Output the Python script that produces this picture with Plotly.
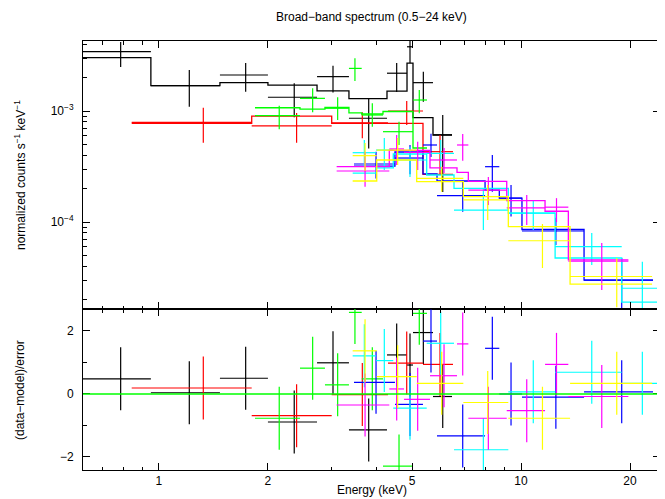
import plotly.graph_objects as go

# ---------------- data ----------------
# black
blk_elo = [0.617, 0.950, 1.474, 2.000, 2.733, 3.348, 4.264, 4.843, 5.031, 5.713]
blk_ehi = [0.950, 1.474, 2.000, 2.733, 3.348, 4.264, 4.843, 5.031, 5.713, 6.447]
blk_ec = [0.784, 1.213, 1.736, 2.364, 3.025, 3.796, 4.535, 4.936, 5.373, 6.078]
blk_flux = [3.42e-3, 1.69e-3, 2.11e-3, 1.33e-3, 2.04e-3, 8.6e-4, 2.19e-3, 3.79e-3, 1.80e-3, 6.1e-4]
blk_fhi = [4.19e-3, 2.34e-3, 2.70e-3, 1.78e-3, 2.56e-3, 1.28e-3, 2.70e-3, 4.9e-3, 2.26e-3, 9.2e-4]
blk_flo = [2.49e-3, 1.09e-3, 1.49e-3, 8.8e-4, 1.47e-3, 4.6e-4, 1.48e-3, 2.70e-3, 1.21e-3, 1.86e-4]
blk_model = [3.02e-3, 1.69e-3, 1.80e-3, 1.71e-3, 1.52e-3, 1.29e-3, 1.51e-3, 2.70e-3, 8.7e-4, 6.08e-4]
blk_resid = [0.48, 0.04, 0.50, -0.89, 0.99, -1.14, 1.24, 0.92, 1.95, -0.08]

# red
red_elo = [0.841, 1.804, 3.000, 4.291, 5.361]
red_ehi = [1.804, 3.000, 4.291, 5.361, 6.489]
red_ec = [1.326, 2.400, 3.645, 4.834, 5.974]
red_flux = [7.91e-4, 7.33e-4, 7.8e-4, 1.0e-3, 4.3e-4]
red_fhi = [1.07e-3, 9.6e-4, 9.73e-4, 1.23e-3, 6.08e-4]
red_flo = [5.18e-4, 5.18e-4, 5.68e-4, 7.48e-4, 2.65e-4]
red_model = [7.75e-4, 9.0e-4, 7.75e-4, 7.75e-4, 2.68e-4]
red_resid = [0.19, -0.69, -0.02, 0.98, 0.94]

# green
grn_elo = [1.842, 2.452, 2.874, 3.348, 3.631, 4.157, 5.031]
grn_ehi = [2.452, 2.874, 3.348, 3.631, 4.157, 5.031, 5.499]
grn_ec = [2.149, 2.658, 3.116, 3.478, 3.884, 4.603, 5.236]
grn_flux = [9.07e-4, 1.30e-3, 1.058e-3, 2.42e-3, 9.2e-4, 6.51e-4, 1.256e-3]
grn_fhi = [1.116e-3, 1.60e-3, 1.33e-3, 2.98e-3, 1.174e-3, 8.01e-4, 1.545e-3]
grn_flo = [6.84e-4, 9.73e-4, 8.3e-4, 1.86e-3, 7.22e-4, 4.94e-4, 9.53e-4]
grn_model = [1.07e-3, 1.04e-3, 1.08e-3, 9.6e-4, 9.4e-4, 9.9e-4, 4.64e-4]
grn_resid = [-0.77, 0.82, 0.29, 2.59, 0.48, -2.29, 2.56]

# blue
blu_elo = [3.457, 4.486, 5.361, 5.861, 7.955, 8.710, 10.06, 14.93]
blu_ehi = [4.486, 5.361, 5.861, 7.955, 8.710, 10.06, 14.93, 23.15]
blu_ec = [3.977, 4.936, 5.641, 6.902, 8.332, 9.384, 12.48, 18.97]
blu_flux = [3.33e-4, 3.77e-4, 4.94e-4, 1.73e-4, 3.15e-4, 1.64e-4, 8.30e-5, 3.00e-5]
blu_fhi = [4.30e-4, 4.94e-4, 6.25e-4, 2.35e-4, 4.01e-4, 2.15e-4, 1.09e-4, 4.74e-5]
blu_flo = [2.47e-4, 2.69e-4, 3.85e-4, 1.24e-4, 1.87e-4, 1.12e-4, 6.21e-5, 1.61e-5]
blu_model = [3.19e-4, 4.27e-4, 2.71e-4, 2.34e-4, 1.94e-4, 1.64e-4, 8.56e-5, 3.00e-5]
blu_resid = [0.37, -0.33, 1.68, -1.33, 1.45, 0.0, -0.10, 0.07]

# cyan
cyn_elo = [3.428, 3.977, 4.438, 5.489, 6.530, 9.224, 12.42, 18.97]
cyn_ehi = [3.977, 4.438, 5.489, 6.530, 9.224, 12.42, 18.97, 24.48]
cyn_ec = [3.692, 4.192, 4.936, 6.001, 7.870, 10.81, 15.68, 21.63]
cyn_flux = [4.21e-4, 4.45e-4, 3.62e-4, 4.15e-4, 1.28e-4, 1.20e-4, 5.99e-5, 2.53e-5]
cyn_fhi = [5.48e-4, 5.71e-4, 4.74e-4, 5.48e-4, 2.01e-4, 1.58e-4, 7.96e-5, 4.39e-5]
cyn_flo = [3.13e-4, 2.94e-4, 2.54e-4, 2.94e-4, 8.47e-5, 8.47e-5, 4.10e-5, 1.61e-5]
cyn_model = [2.76e-4, 3.07e-4, 4.10e-4, 2.65e-4, 2.01e-4, 1.20e-4, 4.74e-5, 1.90e-5]
cyn_resid = [1.21, 1.06, -0.45, 1.61, -1.77, 0.07, 0.69, 0.34]

# magenta
mag_elo = [3.096, 4.327, 4.752, 5.605, 6.656, 7.153, 9.131, 11.65, 13.51]
mag_ehi = [4.327, 4.752, 5.605, 6.656, 7.153, 9.131, 11.65, 13.51, 19.79]
mag_ec = [3.709, 4.535, 5.183, 6.129, 6.902, 8.123, 10.37, 12.53, 16.71]
mag_flux = [2.88e-4, 4.55e-4, 4.24e-4, 3.62e-4, 4.94e-4, 1.94e-4, 1.34e-4, 1.36e-4, 4.45e-5]
mag_fhi = [4.30e-4, 6.08e-4, 5.29e-4, 4.64e-4, 6.21e-4, 2.54e-4, 1.75e-4, 1.64e-4, 6.47e-5]
mag_flo = [2.08e-4, 3.26e-4, 2.94e-4, 2.76e-4, 3.57e-4, 1.42e-4, 9.40e-5, 1.00e-4, 2.44e-5]
mag_model = [3.15e-4, 4.41e-4, 4.41e-4, 3.07e-4, 2.80e-4, 2.32e-4, 1.56e-4, 1.25e-4, 4.55e-5]
mag_resid = [-0.35, 0.16, -0.17, 0.58, 1.59, -0.77, -0.53, 0.94, -0.08]

# yellow
yel_elo = [3.428, 3.995, 5.151, 6.929, 9.224, 13.66]
yel_ehi = [3.995, 5.151, 6.929, 9.224, 13.66, 23.01]
yel_ec = [3.709, 4.564, 6.039, 8.091, 11.46, 18.38]
yel_flux = [3.96e-4, 4.45e-4, 2.47e-4, 1.58e-4, 6.78e-5, 3.23e-5]
yel_fhi = [5.15e-4, 5.71e-4, 3.15e-4, 2.15e-4, 9.59e-5, 4.74e-5]
yel_flo = [2.88e-4, 3.26e-4, 1.87e-4, 1.04e-4, 3.85e-5, 1.71e-5]
yel_model = [2.34e-4, 3.62e-4, 2.31e-4, 1.69e-4, 9.07e-5, 2.76e-5]
yel_resid = [1.37, 0.55, 0.34, -0.27, -0.77, 0.34]

x_ticks = [1, 2, 5, 10, 20]
x_minor = [0.7, 0.8, 0.9, 3, 4, 6, 7, 8, 9]
y_ticks = [1e-4, 1e-3]
y_ticktext = ["10<sup>\u22124</sup>", "10<sup>\u22123</sup>"]
y_minor = [2e-5, 3e-5, 4e-5, 5e-5, 6e-5, 7e-5, 8e-5, 9e-5,
           2e-4, 3e-4, 4e-4, 5e-4, 6e-4, 7e-4, 8e-4, 9e-4,
           2e-3, 3e-3, 4e-3]
r_ticks = [-2, 0, 2]
r_minor = [-1, 1]

series = [
    ("#000000", blk_elo, blk_ehi, blk_ec, blk_flux, blk_fhi, blk_flo, blk_model, blk_resid),
    ("#ff0000", red_elo, red_ehi, red_ec, red_flux, red_fhi, red_flo, red_model, red_resid),
    ("#00ff00", grn_elo, grn_ehi, grn_ec, grn_flux, grn_fhi, grn_flo, grn_model, grn_resid),
    ("#0000ff", blu_elo, blu_ehi, blu_ec, blu_flux, blu_fhi, blu_flo, blu_model, blu_resid),
    ("#00ffff", cyn_elo, cyn_ehi, cyn_ec, cyn_flux, cyn_fhi, cyn_flo, cyn_model, cyn_resid),
    ("#ff00ff", mag_elo, mag_ehi, mag_ec, mag_flux, mag_fhi, mag_flo, mag_model, mag_resid),
    ("#ffff00", yel_elo, yel_ehi, yel_ec, yel_flux, yel_fhi, yel_flo, yel_model, yel_resid),
]

fig = go.Figure()
EW = 1.2

for col, elo, ehi, ec, f, fhi, flo, mod, res in series:
    ex_p = [h - c for h, c in zip(ehi, ec)]
    ex_m = [c - l for c, l in zip(ec, elo)]
    fy_p = [h - v for h, v in zip(fhi, f)]
    fy_m = [v - l for v, l in zip(f, flo)]
    fig.add_trace(go.Scatter(
        x=ec, y=f, mode="markers", xaxis="x", yaxis="y",
        marker=dict(size=1, color=col),
        error_x=dict(type="data", array=ex_p, arrayminus=ex_m, symmetric=False,
                     color=col, thickness=EW, width=0),
        error_y=dict(type="data", array=fy_p, arrayminus=fy_m, symmetric=False,
                     color=col, thickness=EW, width=0),
        showlegend=False, hoverinfo="skip"))
    fig.add_trace(go.Scatter(
        x=elo + [ehi[-1]], y=mod + [mod[-1]], mode="lines", line_shape="hv",
        xaxis="x", yaxis="y", line=dict(color=col, width=1.3),
        showlegend=False, hoverinfo="skip"))
    fig.add_trace(go.Scatter(
        x=ec, y=res, mode="markers", xaxis="x2", yaxis="y2",
        marker=dict(size=1, color=col),
        error_x=dict(type="data", array=ex_p, arrayminus=ex_m, symmetric=False,
                     color=col, thickness=EW, width=0),
        error_y=dict(type="data", array=[1] * len(res), color=col, thickness=EW, width=0),
        showlegend=False, hoverinfo="skip"))

FONT = dict(family="Liberation Sans, Arial, Helvetica, sans-serif", size=12, color="black")
split = 161 / 429

xcommon = dict(type="log", range=[-0.2097, 1.3838], showgrid=False, zeroline=False,
               showline=True, linecolor="black", linewidth=1, mirror="ticks",
               ticks="inside", ticklen=7, tickwidth=1, tickcolor="black",
               tickmode="array", tickvals=x_ticks, ticktext=[str(v) for v in x_ticks],
               minor=dict(ticks="inside", ticklen=3.5, tickwidth=1, tickcolor="black",
                          tickmode="array", tickvals=x_minor, showgrid=False),
               tickfont=FONT)

ycommon = dict(showgrid=False, zeroline=False, showline=True, linecolor="black",
               linewidth=1, mirror="ticks", ticks="inside", ticklen=7, tickwidth=1,
               tickcolor="black", tickmode="array", tickfont=FONT, ticklabelstandoff=6)

fig.update_layout(
    width=657, height=491,
    margin=dict(l=75, r=5, t=33, b=29),
    paper_bgcolor="white", plot_bgcolor="white",
    font=FONT,
    xaxis=dict(**xcommon, domain=[0, 1], anchor="y", matches="x2", showticklabels=False),
    xaxis2=dict(**xcommon, domain=[0, 1], anchor="y2"),
    yaxis=dict(**ycommon, type="log", domain=[split, 1], anchor="x", range=[-4.7838, -2.3694],
               tickvals=y_ticks, ticktext=y_ticktext,
               minor=dict(ticks="inside", ticklen=3.5, tickwidth=1, tickcolor="black",
                          tickmode="array", tickvals=y_minor, showgrid=False)),
    yaxis2=dict(**ycommon, domain=[0, split], anchor="x2", range=[-2.413, 2.698],
                tickvals=r_ticks, ticktext=["\u22122", "0", "2"],
                minor=dict(ticks="inside", ticklen=3.5, tickwidth=1, tickcolor="black",
                           tickmode="array", tickvals=r_minor, showgrid=False)),
    shapes=[dict(type="line", xref="x2 domain", x0=0, x1=1, yref="y2", y0=0, y1=0,
                 line=dict(color="#00ff00", width=1.3), layer="above")],
    annotations=[
        dict(text="Broad\u2212band spectrum (0.5\u221224 keV)", xref="paper", yref="paper",
             x=0.5, y=(470 - 17) / 429, xanchor="center", yanchor="middle",
             showarrow=False, font=FONT),
        dict(text="normalized counts s<sup>\u22121</sup> keV<sup>\u22121</sup>",
             xref="paper", yref="paper", x=(20 - 83) / 577, y=(470 - 175) / 429,
             xanchor="center", yanchor="middle", textangle=-90, showarrow=False, font=FONT),
        dict(text="(data\u2212model)/error", xref="paper", yref="paper",
             x=(20 - 83) / 577, y=(470 - 390) / 429, xanchor="center", yanchor="middle",
             textangle=-90, showarrow=False, font=FONT),
        dict(text="Energy (keV)", xref="paper", yref="paper", x=0.5, y=(470 - 490) / 429,
             xanchor="center", yanchor="middle", showarrow=False, font=FONT),
    ],
)

fig.write_html("out.html")
